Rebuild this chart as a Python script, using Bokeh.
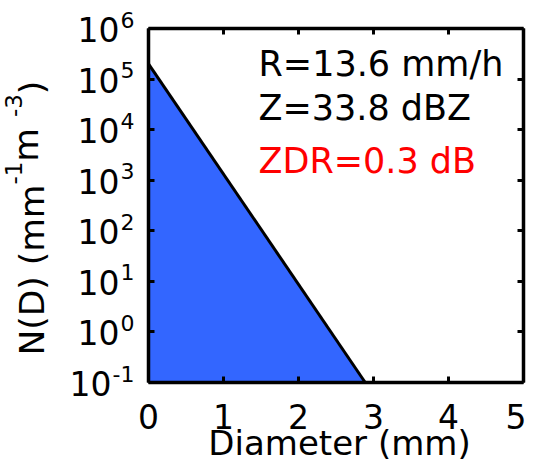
import math
from bokeh.plotting import figure
from bokeh.models import Range1d, LinearAxis, LogAxis, Label, FixedTicker, CustomJSTickFormatter
from bokeh.embed import file_html
from bokeh.resources import INLINE

# ---- data ----
diam = [0.0, 2.89]          # drop diameter (mm) at the two ends of the exponential DSD
nd = [2.0e5, 0.1]           # N(D) (mm^-1 m^-3)
x_ticks = [0, 1, 2, 3, 4, 5]
y_exps = [-1, 0, 1, 2, 3, 4, 5, 6]
ann_texts = ["R=13.6 mm/h", "Z=33.8 dBZ", "ZDR=0.3 dB"]
ann_colors = ["#000000", "#000000", "#ff0000"]

FONT = "DejaVu Sans"
W, H = 526, 463
FL, FR, FT, FB = 148, 523, 28, 382
X0, X1 = 0.0, 5.0
YE0, YE1 = -1, 6
PXU = (FR - FL) / (X1 - X0)
PXD = (FB - FT) / (YE1 - YE0)


def dx(px):
    return X0 + (px - FL) / PXU


def dy(py):
    return 10 ** (YE1 - (py - FT) / PXD)


# the frame covers the whole canvas; the axes box is drawn with fixed-location axes
p = figure(width=W, height=H, x_range=Range1d(dx(0), dx(W)), y_range=Range1d(dy(H), dy(0)),
           y_axis_type="log", output_backend="svg", toolbar_location=None,
           min_border_left=0, min_border_right=0, min_border_top=0, min_border_bottom=0)
p.title.visible = False
p.grid.visible = False
p.outline_line_color = None
p.background_fill_color = "white"
p.border_fill_color = "white"

BLUE = "#3366ff"
ymin = 10 ** YE0
p.patch([diam[0]] + diam, [ymin] + nd, fill_color=BLUE, line_color=None)
p.line(diam, nd, line_color="black", line_width=3)


def style(ax, labels=False):
    ax.axis_line_width = 3.5
    ax.axis_line_color = "black"
    ax.major_tick_in = 6
    ax.major_tick_out = 0
    ax.major_tick_line_width = 3
    ax.minor_tick_in = 0
    ax.minor_tick_out = 0
    if not labels:
        ax.formatter = CustomJSTickFormatter(code="return '';")
        ax.major_label_text_color = None
        ax.major_label_text_font_size = "10px"
        ax.major_label_standoff = 0


y_tick_vals = [10.0 ** k for k in y_exps]

xb = p.xaxis[0]
xb.ticker = FixedTicker(ticks=x_ticks, minor_ticks=[])
xb.fixed_location = 10 ** YE0
xb.bounds = (X0, X1)
style(xb, labels=True)
xb.major_label_text_font = FONT
xb.major_label_text_font_size = "33px"
xb.major_label_standoff = 21
xb.major_label_text_color = "black"

yl = p.yaxis[0]
yl.ticker = FixedTicker(ticks=y_tick_vals, minor_ticks=[])
yl.fixed_location = X0
yl.bounds = (10 ** YE0, 10 ** YE1)
style(yl)

top = LinearAxis(ticker=FixedTicker(ticks=x_ticks, minor_ticks=[]), fixed_location=10 ** YE1,
                 bounds=(X0, X1))
style(top)
p.add_layout(top, "above")
right = LogAxis(ticker=FixedTicker(ticks=y_tick_vals, minor_ticks=[]), fixed_location=X1,
                bounds=(10 ** YE0, 10 ** YE1))
style(right)
p.add_layout(right, "right")


def clabel(x, y, text, size, off, align="left", rotated=False, color="black"):
    # x, y: canvas pixel of the baseline anchor; off: renderer baseline correction
    if rotated:
        x, ang = x - off, math.pi / 2
    else:
        y, ang = y - off, 0.0
    p.add_layout(Label(x=dx(x), y=dy(y), text=text, angle=ang,
                       text_align=align, text_baseline="alphabetic", text_font=FONT,
                       text_font_size=f"{size}px", text_color=color))


# y tick labels 10^k with superscript exponents
MAIN, SUP = 33, 22
R_EDGE = 134
for k in y_exps:
    ty = FT + (YE1 - k) * PXD
    e = str(k)
    wsup = sum(0.361 if c == "-" else 0.636 for c in e) * SUP
    clabel(R_EDGE - wsup - 1, ty + 19, "10", MAIN, 18, align="right")
    clabel(R_EDGE - wsup, ty + 3, e, SUP, 12, align="left")

# x axis label
clabel(339, 453, "Diameter (mm)", 34, 11, align="center")

# y axis label, rotated, built from pieces for the superscripts
LBL, LSUP = 34.5, 23
pieces = [("N(D) (mm", False, 11), ("-1", True, 12), (" m", False, 17), ("-3", True, 12),
          (" )", False, 11)]
adv = {"N": .748, "(": .390, "D": .770, ")": .390, " ": .318, "m": .974, "-": .361,
       "1": .636, "3": .636}
ypos = 355
for txt, sup, off in pieces:
    fs = LSUP if sup else LBL
    clabel(25 if sup else 42, ypos, txt, fs, off, align="left", rotated=True)
    ypos -= sum(adv[c] for c in txt) * fs

# annotations
ann_base = [78, 125, 178]
ann_off = [15, 18, 18]
for t, c, b, o in zip(ann_texts, ann_colors, ann_base, ann_off):
    clabel(258, b, t, 35, o, align="left", color=c)

open("out.html", "w").write(file_html(p, INLINE))
